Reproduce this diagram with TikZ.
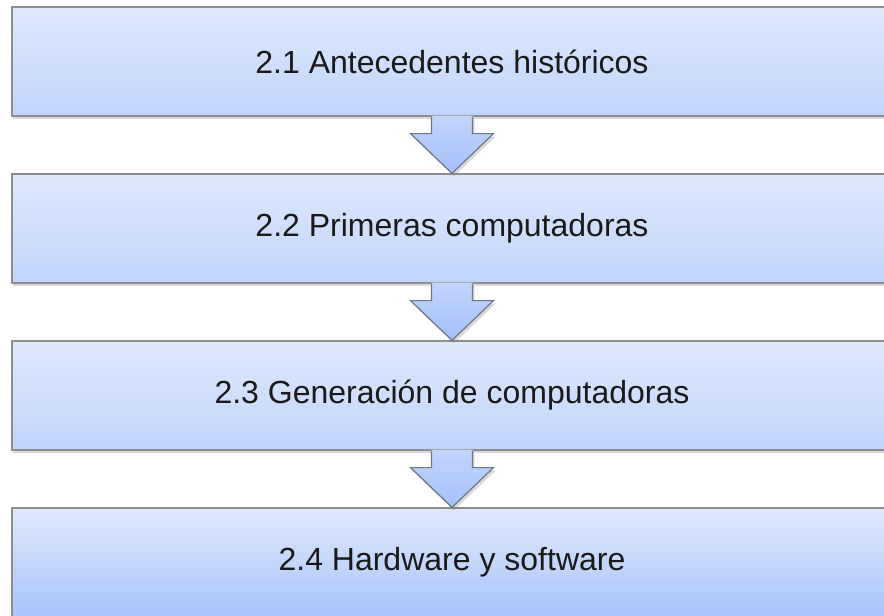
\documentclass[tikz,border=0pt]{standalone}
\usepackage{fontspec}
\setmainfont{Liberation Sans}
\usetikzlibrary{calc,shadows}
\definecolor{boxtop}{HTML}{DFE9FC}
\definecolor{boxbot}{HTML}{C0D4FC}
\definecolor{boxdeep}{HTML}{A8C4FA}
\definecolor{boxline}{HTML}{8E8E8E}
\definecolor{arrtop}{HTML}{C3D6FC}
\definecolor{arrbot}{HTML}{A4C0FA}
\definecolor{arrline}{HTML}{6B7788}
\definecolor{txt}{HTML}{1A1A1A}
\tikzset{
  secbox/.style={draw=boxline, line width=1.2pt, top color=boxtop, bottom color=boxbot,
    minimum width=880pt, minimum height=109pt, inner sep=0pt, text=txt,
    font=\fontsize{32}{38}\selectfont,
    drop shadow={opacity=0.3, shadow xshift=1pt, shadow yshift=-3pt}},
  secarrow/.style={top color=arrtop, bottom color=arrbot,
    drop shadow={opacity=0.3, shadow xshift=2pt, shadow yshift=-3pt}},
}

\begin{document}
\begin{tikzpicture}[x=1pt,y=-1pt]
    \useasboundingbox (0,0) rectangle (884,616);
    \clip (0,0) rectangle (884,616);
    \node[secbox] (s1) at (452,61.5) {2.1 Antecedentes históricos};
    \node[secbox] (s2) at (452,228.5) {2.2 Primeras computadoras};
    \node[secbox] (s3) at (452,395.5) {2.3 Generación de computadoras};
    \node[secbox, bottom color=boxdeep] (s4) at (452,562.5) {2.4 Hardware y software};
    % block arrows between the boxes
    \foreach \a/\b in {s1/s2, s2/s3, s3/s4} {
      \shade[secarrow] ($(\a.south)+(-20.5,-1)$) -- ($(\a.south)+(-20.5,17)$)
        -- ($(\a.south)+(-41.5,17)$) -- (\b.north) -- ($(\a.south)+(41.5,17)$)
        -- ($(\a.south)+(20.5,17)$) -- ($(\a.south)+(20.5,-1)$) -- cycle;
      \draw[arrline, line width=1.2pt] ($(\a.south)+(-20.5,0.6)$) -- ($(\a.south)+(-20.5,17)$)
        -- ($(\a.south)+(-41.5,17)$) -- (\b.north) -- ($(\a.south)+(41.5,17)$)
        -- ($(\a.south)+(20.5,17)$) -- ($(\a.south)+(20.5,0.6)$);
    }
\end{tikzpicture}
\end{document}
